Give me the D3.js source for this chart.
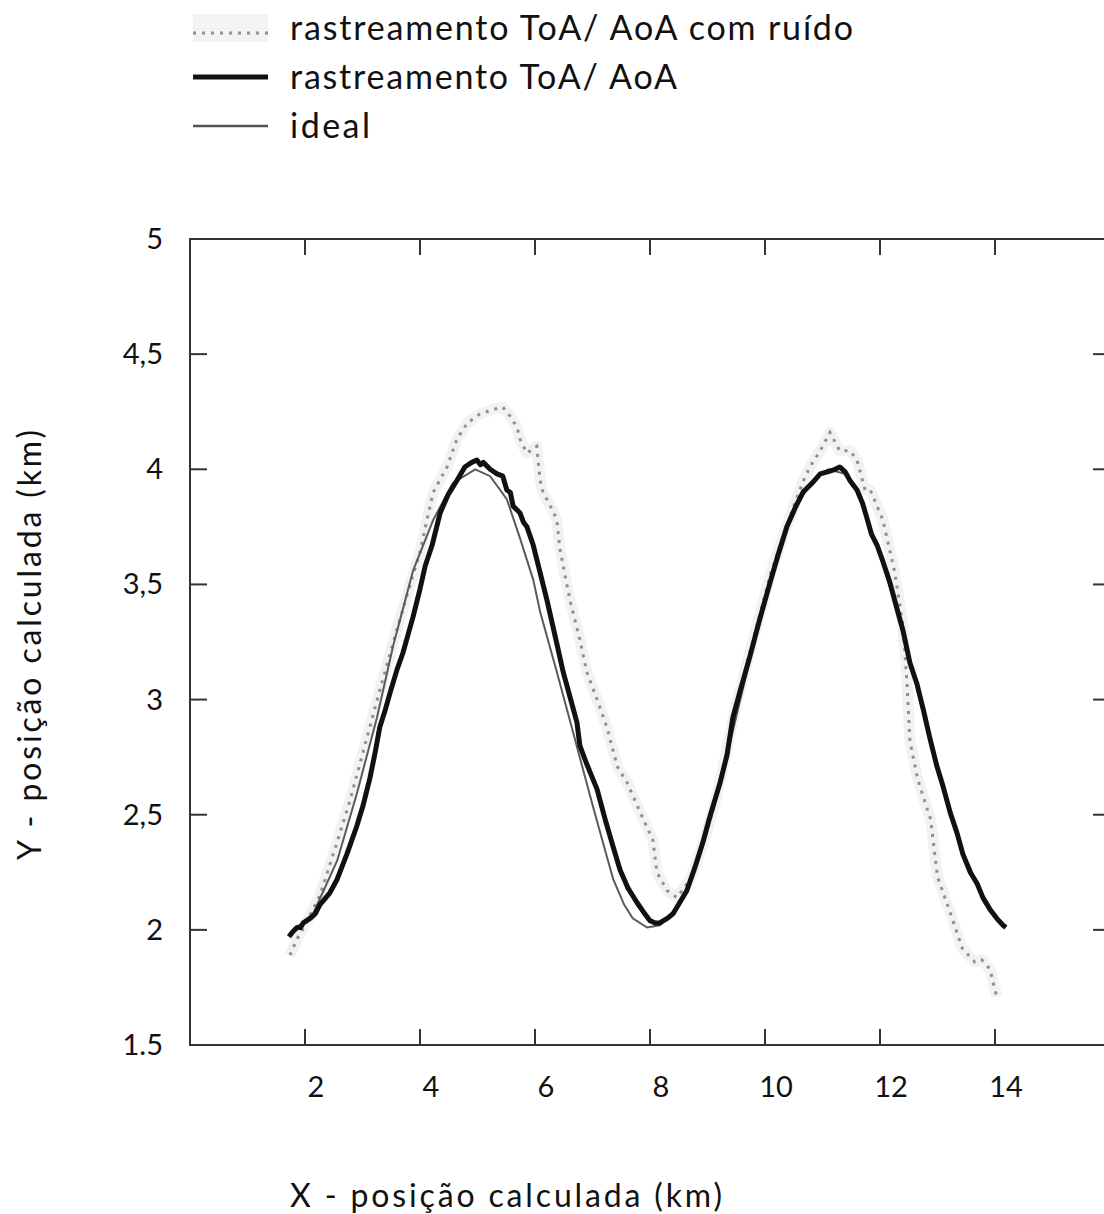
<!DOCTYPE html>
<html>
<head>
<meta charset="utf-8">
<script src="https://cdn.jsdelivr.net/npm/d3@7"></script>
<style>
  body { margin: 0; background: #fff; }
  svg text { font-family: Lato, "Open Sans", sans-serif; fill: #111; }
</style>
</head>
<body>
<svg id="chart" width="1104" height="1214"></svg>
<script>
// series, [x km, y km]
const ruido = [[1.74,1.89],[1.86,1.96],[2.00,2.02],[2.26,2.15],[2.52,2.35],[2.78,2.56],[3.04,2.80],[3.30,3.04],[3.57,3.28],[3.83,3.50],[4.00,3.64],[4.12,3.78],[4.23,3.90],[4.47,4.01],[4.64,4.13],[4.82,4.20],[5.04,4.24],[5.27,4.26],[5.44,4.27],[5.57,4.23],[5.69,4.18],[5.74,4.13],[5.86,4.07],[6.03,4.10],[6.09,3.95],[6.14,3.90],[6.31,3.82],[6.38,3.78],[6.43,3.66],[6.49,3.58],[6.61,3.43],[6.78,3.26],[6.90,3.12],[7.08,3.00],[7.25,2.88],[7.43,2.71],[7.60,2.64],[7.83,2.51],[8.05,2.39],[8.12,2.25],[8.30,2.17],[8.47,2.14],[8.70,2.22],[8.92,2.37],[9.10,2.52],[9.30,2.74],[9.50,2.98],[9.70,3.17],[9.90,3.36],[10.10,3.55],[10.30,3.70],[10.50,3.84],[10.70,3.97],[10.83,4.03],[10.96,4.08],[11.13,4.16],[11.30,4.08],[11.48,4.08],[11.60,4.04],[11.74,3.91],[11.83,3.91],[12.05,3.78],[12.25,3.56],[12.40,3.32],[12.47,3.07],[12.52,2.82],[12.66,2.65],[12.88,2.48],[13.00,2.23],[13.20,2.09],[13.43,1.92],[13.65,1.86],[13.77,1.87],[13.91,1.83],[14.03,1.71]];

const rastreamento = [[1.72,1.97],[1.78,1.99],[1.86,2.01],[1.92,2.01],[1.97,2.03],[2.09,2.05],[2.18,2.07],[2.26,2.11],[2.43,2.16],[2.56,2.22],[2.73,2.33],[2.90,2.45],[3.01,2.54],[3.13,2.66],[3.22,2.77],[3.30,2.88],[3.39,2.95],[3.48,3.03],[3.60,3.13],[3.70,3.20],[3.79,3.28],[3.88,3.36],[4.00,3.48],[4.09,3.58],[4.21,3.67],[4.35,3.81],[4.49,3.89],[4.64,3.95],[4.78,4.01],[4.90,4.03],[4.99,4.04],[5.05,4.02],[5.10,4.03],[5.22,4.00],[5.34,3.98],[5.44,3.97],[5.51,3.91],[5.57,3.90],[5.62,3.84],[5.74,3.81],[5.80,3.77],[5.86,3.75],[5.97,3.67],[6.09,3.55],[6.21,3.43],[6.31,3.32],[6.40,3.22],[6.49,3.12],[6.61,3.01],[6.73,2.90],[6.78,2.80],[6.90,2.72],[7.08,2.61],[7.22,2.48],[7.36,2.36],[7.48,2.26],[7.62,2.18],[7.77,2.12],[7.88,2.08],[8.00,2.04],[8.09,2.03],[8.17,2.03],[8.30,2.05],[8.40,2.07],[8.52,2.12],[8.64,2.17],[8.78,2.27],[8.92,2.38],[9.04,2.49],[9.22,2.64],[9.34,2.76],[9.44,2.92],[9.57,3.04],[9.74,3.19],[9.91,3.35],[10.09,3.51],[10.23,3.63],[10.38,3.75],[10.52,3.83],[10.66,3.90],[10.82,3.94],[10.96,3.98],[11.10,3.99],[11.22,4.00],[11.30,4.01],[11.39,3.99],[11.48,3.95],[11.60,3.91],[11.70,3.85],[11.77,3.79],[11.85,3.72],[11.95,3.67],[12.05,3.60],[12.17,3.51],[12.30,3.39],[12.40,3.30],[12.52,3.16],[12.64,3.07],[12.75,2.96],[12.87,2.83],[12.99,2.71],[13.10,2.62],[13.22,2.51],[13.34,2.42],[13.44,2.33],[13.57,2.25],[13.69,2.20],[13.79,2.14],[13.91,2.09],[14.03,2.05],[14.14,2.02],[14.19,2.01]];

const ideal = [[1.80,2.00],[2.14,2.07],[2.56,2.30],[2.90,2.59],[3.25,2.92],[3.53,3.23],[3.88,3.56],[4.23,3.78],[4.57,3.94],[4.96,4.00],[5.22,3.97],[5.51,3.87],[5.74,3.70],[5.97,3.52],[6.09,3.38],[6.38,3.12],[6.66,2.86],[6.96,2.58],[7.18,2.38],[7.36,2.22],[7.55,2.11],[7.70,2.05],[7.95,2.01],[8.17,2.02],[8.40,2.07],[8.64,2.17],[8.92,2.37],[9.22,2.63],[9.57,3.00],[9.91,3.35],[10.23,3.63],[10.52,3.83],[10.82,3.95],[11.10,4.00],[11.39,3.98],[11.60,3.91],[11.77,3.79],[12.05,3.59],[12.30,3.38],[12.52,3.16],[12.75,2.96],[12.99,2.71],[13.22,2.51],[13.44,2.34],[13.69,2.20],[13.91,2.09],[14.14,2.02]];

const xTicks = [2, 4, 6, 8, 10, 12, 14];
const yTicks = [5, 4.5, 4, 3.5, 3, 2.5, 2, 1.5];
const yTickLabels = ["5", "4,5", "4", "3,5", "3", "2,5", "2", "1.5"];
const legendLabels = ["rastreamento ToA/ AoA com ruído", "rastreamento ToA/ AoA", "ideal"];

const svg = d3.select("#chart");
const plotL = 190, plotR = 1110, plotT = 239, plotB = 1045;

const x = d3.scaleLinear().domain([0, 16]).range([plotL, plotR]);
const y = d3.scaleLinear().domain([1.5, 5]).range([plotB, plotT]);

const frame = svg.append("g");
frame.append("rect")
    .attr("x", plotL).attr("y", plotT)
    .attr("width", plotR - plotL).attr("height", plotB - plotT)
    .attr("fill", "none").attr("stroke", "#333").attr("stroke-width", 2);

// inward ticks on all four sides
frame.selectAll(".tb").data(xTicks).enter().append("line")
    .attr("x1", d => x(d)).attr("x2", d => x(d))
    .attr("y1", plotT).attr("y2", plotT + 16)
    .attr("stroke", "#333").attr("stroke-width", 2);
frame.selectAll(".bt").data(xTicks).enter().append("line")
    .attr("x1", d => x(d)).attr("x2", d => x(d))
    .attr("y1", plotB).attr("y2", plotB - 16)
    .attr("stroke", "#333").attr("stroke-width", 2);
const innerY = yTicks.filter(d => d > 1.5 && d < 5);
frame.selectAll(".lt").data(innerY).enter().append("line")
    .attr("x1", plotL).attr("x2", plotL + 17)
    .attr("y1", d => y(d)).attr("y2", d => y(d))
    .attr("stroke", "#333").attr("stroke-width", 2);
frame.selectAll(".rt").data(innerY).enter().append("line")
    .attr("x1", plotR).attr("x2", plotR - 17)
    .attr("y1", d => y(d)).attr("y2", d => y(d))
    .attr("stroke", "#333").attr("stroke-width", 2);

// tick labels
svg.selectAll(".xl").data(xTicks).enter().append("text")
    .attr("x", d => x(d) + 11).attr("y", 1097)
    .attr("text-anchor", "middle").attr("font-size", 29)
    .text(d => d);
svg.selectAll(".yl").data(yTicks).enter().append("text")
    .attr("x", 163).attr("y", d => y(d) + 10)
    .attr("text-anchor", "end").attr("font-size", 29)
    .text((d, i) => yTickLabels[i]);

// axis titles
svg.append("text")
    .attr("x", 290).attr("y", 1207)
    .attr("font-size", 32)
    .attr("textLength", 432).attr("lengthAdjust", "spacing")
    .text("X - posição calculada (km)");
svg.append("text")
    .attr("transform", "translate(41,860) rotate(-90)")
    .attr("font-size", 32)
    .attr("textLength", 430).attr("lengthAdjust", "spacing")
    .text("Y - posição calculada (km)");

const line = d3.line().x(d => x(d[0])).y(d => y(d[1]));

// noisy track: faint halo plus gray dots
svg.append("path").datum(ruido)
    .attr("d", line).attr("fill", "none")
    .attr("stroke", "#f2f2f2").attr("stroke-width", 11)
    .attr("stroke-linejoin", "round");
svg.append("path").datum(ruido)
    .attr("d", line).attr("fill", "none")
    .attr("stroke", "#8f8f8f").attr("stroke-width", 3)
    .attr("stroke-dasharray", "3,6");

svg.append("path").datum(ideal)
    .attr("d", line).attr("fill", "none")
    .attr("stroke", "#5a5a5a").attr("stroke-width", 2);

svg.append("path").datum(rastreamento)
    .attr("d", line).attr("fill", "none")
    .attr("stroke", "#111").attr("stroke-width", 5)
    .attr("stroke-linejoin", "round");

// legend
const legend = svg.append("g");
const rowY = [28, 77, 126];
const textLen = [563, 387, 80];
legend.append("rect")
    .attr("x", 193).attr("y", 14).attr("width", 75).attr("height", 28)
    .attr("fill", "#f3f3f3");
legend.append("line")
    .attr("x1", 193).attr("x2", 268).attr("y1", 33).attr("y2", 33)
    .attr("stroke", "#8f8f8f").attr("stroke-width", 3)
    .attr("stroke-dasharray", "3,6");
legend.append("line")
    .attr("x1", 193).attr("x2", 268).attr("y1", rowY[1]).attr("y2", rowY[1])
    .attr("stroke", "#111").attr("stroke-width", 5);
legend.append("line")
    .attr("x1", 193).attr("x2", 268).attr("y1", rowY[2]).attr("y2", rowY[2])
    .attr("stroke", "#555").attr("stroke-width", 2.5);
legend.selectAll(".lg").data(legendLabels).enter().append("text")
    .attr("x", 290).attr("y", (d, i) => rowY[i] + 12)
    .attr("font-size", 34)
    .attr("textLength", (d, i) => textLen[i]).attr("lengthAdjust", "spacing")
    .text(d => d);
</script>
</body>
</html>
